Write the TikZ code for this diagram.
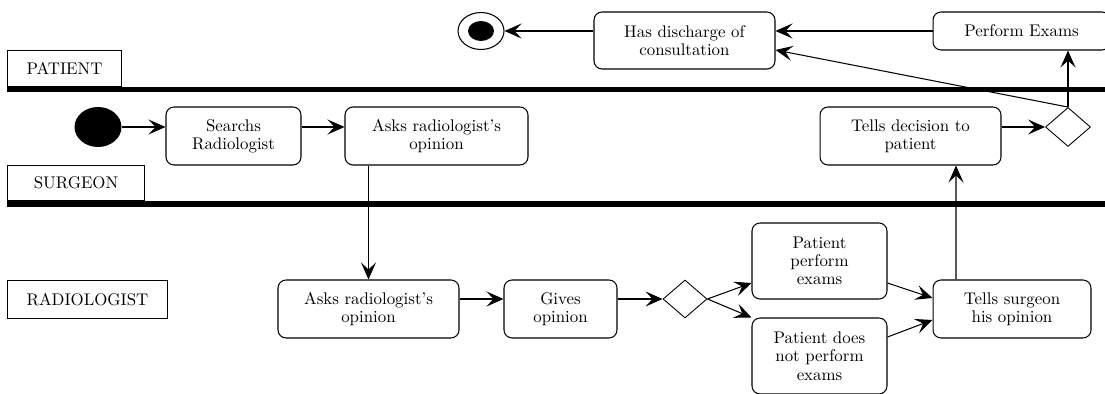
\documentclass[tikz,border=0pt]{standalone}
\usetikzlibrary{arrows.meta,positioning,shapes.geometric}

\begin{document}
\begin{tikzpicture}[
  x=0.02cm, y=-0.02cm,
  >={Stealth[length=3.4mm,width=3mm,inset=1.4mm]},
  every node/.style={font=\fontsize{9.6}{10.4}\selectfont, align=center},
  act/.style={draw, rounded corners=1.6mm, line width=0.6pt, minimum height=1.16cm, inner sep=1pt},
  lane/.style={draw, line width=0.6pt, anchor=north west, minimum height=0.72cm},
  choice/.style={draw, diamond, line width=0.5pt, inner sep=0pt},
  bar/.style={fill=black},
  flow/.style={->, line width=0.6pt}
]
\useasboundingbox (0,0) rectangle (1105,394);

% Couloirs
\node[lane, minimum width=2.28cm] (lpat) at (7,50) {PATIENT};
\node[lane, minimum width=2.74cm, minimum height=0.7cm] (lsur) at (7,165) {SURGEON};
\node[lane, minimum width=3.2cm, minimum height=0.76cm] (lrad) at (7,280) {RADIOLOGIST};
\fill[bar] (lpat.south west) rectangle (1110,92.5);
\fill[bar] (lsur.south west) rectangle (1110,207);

% Patient
\node[act, minimum width=3.62cm, minimum height=1.14cm] (discharge) at (684.5,40.5) {Has discharge of\\consultation};
\node[act, minimum width=3.54cm, minimum height=0.76cm] (exams) at (1021.5,31) {Perform Exams};
\node[ellipse, draw, line width=0.6pt, minimum width=0.92cm, minimum height=0.74cm, inner sep=0pt] (endS) at (481,31) {};
\node[ellipse, fill=black, minimum width=0.52cm, minimum height=0.4cm, inner sep=0pt] (endDot) at (endS.center) {};

% Surgeon
\node[ellipse, fill=black, minimum width=0.94cm, minimum height=0.8cm, inner sep=0pt] (start) at (98,127) {};
\node[act, minimum width=2.7cm] (search) at (233.5,136) {Searchs\\Radiologist};
\node[act, minimum width=3.66cm] (askS) at (436.5,136) {Asks radiologist's\\opinion};
\node[act, minimum width=3.62cm] (decide) at (910.5,136) {Tells decision to\\patient};
\node[choice, minimum width=0.9cm, minimum height=0.78cm] (dS) at (1068,127) {};

% Radiologist
\node[act, minimum width=3.62cm] (askR) at (368.5,309) {Asks radiologist's\\opinion};
\node[act, minimum width=2.26cm] (give) at (560.5,309) {Gives\\opinion};
\node[choice, minimum width=0.88cm, minimum height=0.76cm] (dR) at (685,299) {};
\node[act, minimum width=2.7cm, minimum height=1.52cm] (perf) at (819.5,261) {Patient\\perform\\exams};
\node[act, minimum width=2.7cm, minimum height=1.52cm] (noperf) at (819.5,356) {Patient does\\not perform\\exams};
\node[act, minimum width=3.16cm] (tellS) at (1012,309) {Tells surgeon\\his opinion};

% Flots
\draw[flow] (start) -- (start -| search.west);
\draw[flow] (search.east |- start) -- (askS.west |- start);
\draw[flow] (askS.south -| askR.north) -- (askR.north);
\draw[flow] (askR.east |- dR) -- (give.west |- dR);
\draw[flow] (give.east |- dR) -- (dR.west);
\draw[flow] (dR.east) -- ([yshift=-0.44cm]perf.west);
\draw[flow] (dR.east) -- (noperf.north west);
\draw[flow] ([yshift=-0.44cm]perf.east) -- ([yshift=0.22cm]tellS.west);
\draw[flow] ([yshift=0.38cm]noperf.east) -- ([yshift=-0.22cm]tellS.west);
\draw[flow] ([xshift=-1.12cm]tellS.north) -- ([xshift=0.91cm]decide.south);
\draw[flow] (decide.east |- dS) -- (dS.west);
\draw[flow] (dS.north) -- (dS.north |- exams.south);
\draw[flow] (dS.north) -- ([yshift=-0.19cm]discharge.east);
\draw[flow] (exams.west) -- (exams.west -| discharge.east);
\draw[flow] (discharge.west |- endS) -- (endS.east);

\end{tikzpicture}
\end{document}
